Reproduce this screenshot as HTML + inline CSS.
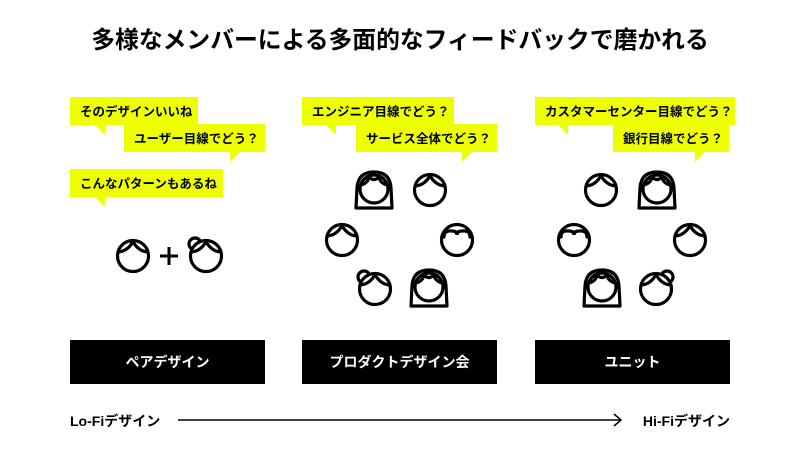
<!DOCTYPE html>
<html><head><meta charset="utf-8"><style>
body{margin:0;background:#fff;}
svg{display:block;font-family:"Liberation Sans","Noto Sans CJK JP",sans-serif;}
</style></head><body>
<svg width="800" height="456" viewBox="0 0 800 456" xmlns="http://www.w3.org/2000/svg">
<defs>
<g id="f" fill="none" stroke="#000" stroke-width="3.2" stroke-linecap="round">
<circle r="15.5" fill="#fff"/><path d="M-14.5,-4 Q-5,-5 0,-14.5 M0,-14.5 Q5,-5 14.5,-4"/></g>
<g id="b" fill="none" stroke="#000" stroke-width="3.2" stroke-linecap="round">
<circle r="15.5" fill="#fff"/><path d="M-13,-3 Q-13,-10 -5,-9 Q0,-9 0,-5 Q0,-9 5,-9 Q13,-10 13,-3"/></g>
<g id="l" fill="none" stroke="#000" stroke-width="3.2" stroke-linejoin="round" stroke-linecap="round">
<path d="M-18,17 L-17,-3 Q-16,-19 0,-19 Q16,-19 17,-3 L18,17 Z" fill="#fff"/>
<circle r="14" fill="#fff" cy="-2"/><path d="M-13,-6 Q-6,-8 -5,-14 Q0,-9 5,-14 Q6,-8 13,-6"/></g>
<g id="n" fill="none" stroke="#000" stroke-width="3.2" stroke-linecap="round">
<circle cx="-11" cy="-12" r="6" fill="#fff"/>
<circle r="15.5" fill="#fff"/><path d="M-14.5,-4 Q-5,-5 0,-14.5 M0,-14.5 Q5,-5 14.5,-4"/></g>
</defs>
<text x="400" y="48" text-anchor="middle" font-size="23.8" font-weight="bold">多様なメンバーによる多面的なフィードバックで磨かれる</text>

<g font-size="12.5" font-weight="bold" fill="#000">
<rect x="70" y="97" width="128" height="28" fill="#eeff00"/><path d="M95,125 L105,135 L105,125Z" fill="#eeff00"/>
<text x="80" y="116">そのデザインいいね</text>
<rect x="124" y="124" width="141" height="28" fill="#eeff00"/><path d="M230,152 L230,162 L240,152Z" fill="#eeff00"/>
<text x="134" y="143">ユーザー目線でどう？</text>
<rect x="70" y="169" width="153" height="28" fill="#eeff00"/><path d="M95,197 L105,207 L105,197Z" fill="#eeff00"/>
<text x="80" y="188">こんなパターンもあるね</text>

<rect x="302" y="97" width="152" height="28" fill="#eeff00"/><path d="M326,125 L336,135 L336,125Z" fill="#eeff00"/>
<text x="312" y="116">エンジニア目線でどう？</text>
<rect x="356" y="124" width="141" height="28" fill="#eeff00"/><path d="M462,152 L462,162 L472,152Z" fill="#eeff00"/>
<text x="366" y="143">サービス全体でどう？</text>

<rect x="535" y="97" width="200" height="28" fill="#eeff00"/><path d="M558,125 L568,135 L568,125Z" fill="#eeff00"/>
<text x="545" y="116">カスタマーセンター目線でどう？</text>
<rect x="613" y="124" width="116" height="28" fill="#eeff00"/><path d="M695,152 L695,162 L705,152Z" fill="#eeff00"/>
<text x="623" y="143">銀行目線でどう？</text>
</g>

<use href="#f" x="133" y="256"/>
<path d="M160,256 H178 M169,247 V265" stroke="#000" stroke-width="3"/>
<use href="#n" x="206" y="256"/>

<use href="#l" x="374" y="191"/>
<use href="#f" x="430" y="190"/>
<use href="#f" x="342" y="240"/>
<use href="#b" x="457" y="240"/>
<use href="#n" x="375" y="289"/>
<use href="#l" x="429" y="289"/>

<use href="#f" x="601" y="190"/>
<use href="#l" x="657" y="191"/>
<use href="#b" x="574" y="240"/>
<use href="#f" x="690" y="240"/>
<use href="#l" x="602" y="289"/>
<g transform="translate(656,289) scale(-1,1)"><use href="#n"/></g>

<rect x="70" y="340" width="195" height="44" fill="#000"/>
<rect x="302" y="340" width="195" height="44" fill="#000"/>
<rect x="535" y="340" width="195" height="44" fill="#000"/>
<g fill="#fff" font-size="14" font-weight="bold" text-anchor="middle">
<text x="167.5" y="367">ペアデザイン</text>
<text x="399.5" y="367">プロダクトデザイン会</text>
<text x="632.5" y="367">ユニット</text>
</g>

<g font-size="14" font-weight="bold">
<text x="70" y="426">Lo-Fiデザイン</text>
<text x="730" y="426" text-anchor="end">Hi-Fiデザイン</text>
</g>
<path d="M178,420 H621 M614,414 L621,420 L614,426" fill="none" stroke="#000" stroke-width="1.5"/>
</svg>
</body></html>
